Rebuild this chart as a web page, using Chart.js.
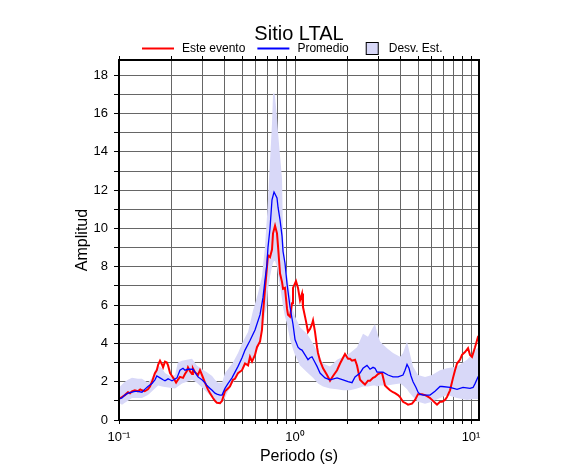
<!doctype html>
<html>
<head>
<meta charset="utf-8">
<title>Sitio LTAL</title>
<script src="https://cdn.jsdelivr.net/npm/chart.js"></script>
<style>
  body { margin: 0; background: white; }
</style>
</head>
<body>
<canvas id="grafica" width="586" height="475"></canvas>
<script>
// Este evento (rojo)
const periodosEvento = [0.100,0.104,0.108,0.1125,0.1155,0.1185,0.123,0.128,0.132,0.135,
  0.140,0.146,0.150,0.154,0.160,0.164,0.167,0.171,0.1755,0.178,
  0.1825,0.187,0.190,0.195,0.200,0.205,0.211,0.216,0.222,0.231,
  0.237,0.243,0.2466,0.253,0.260,0.263,0.270,0.281,0.2885,0.296,
  0.308,0.320,0.329,0.342,0.351,0.360,0.375,0.385,0.400,0.416,
  0.427,0.444,0.456,0.4745,0.500,0.520,0.541,0.555,0.570,0.5925,
  0.608,0.633,0.649,0.658,0.675,0.693,0.702,0.721,0.740,0.750,
  0.770,0.790,0.801,0.822,0.844,0.855,0.877,0.901,0.9125,0.937,
  0.962,0.974,1.013,1.040,1.068,1.096,1.110,1.155,1.185,1.217,
  1.249,1.266,1.299,1.334,1.351,1.387,1.443,1.520,1.581,1.644,
  1.733,1.802,1.849,1.923,2.001,2.053,2.108,2.193,2.251,2.341,
  2.434,2.498,2.598,2.668,2.775,2.848,2.962,3.041,3.122,3.246,
  3.332,3.466,3.604,3.700,3.848,3.950,4.108,4.217,4.385,4.621,
  4.807,5.000,5.132,5.268,5.479,5.623,5.848,6.003,6.243,6.409,
  6.665,6.842,7.116,7.304,7.597,7.902,8.111,8.326,8.660,8.890,
  9.245,9.616,9.870,10.13,10.54,10.96,11.10];
const ampEvento = [1.1,1.2,1.3,1.45,1.4,1.5,1.55,1.5,1.6,1.55,
  1.5,1.6,1.75,2.0,2.45,2.6,2.9,3.1,2.9,2.75,
  3.05,3.0,2.85,2.45,2.3,2.15,1.95,2.1,2.25,2.2,
  2.4,2.55,2.75,2.55,2.4,2.7,2.5,2.35,2.6,2.35,
  1.95,1.6,1.4,1.15,1.0,0.9,0.88,1.0,1.5,1.65,
  1.75,2.1,2.15,2.45,2.6,2.95,2.85,3.3,3.05,3.4,
  3.8,4.1,4.7,5.55,6.8,8.0,8.6,8.5,8.9,9.75,
  10.15,9.75,9.05,7.65,7.2,6.85,6.9,5.8,5.5,5.4,
  6.1,6.9,7.25,6.9,6.25,6.6,5.9,5.15,4.6,4.75,
  5.0,5.2,4.6,3.8,3.5,3.1,2.7,2.35,2.05,2.3,
  2.6,2.95,3.15,3.45,3.2,3.2,3.1,3.15,2.85,2.1,
  1.95,1.85,2.05,2.05,2.2,2.25,2.4,2.45,2.45,1.8,
  1.7,1.55,1.45,1.4,1.3,1.2,0.95,0.9,0.8,0.85,
  1.05,1.35,1.35,1.35,1.3,1.25,1.15,1.05,0.9,0.8,
  0.95,0.95,1.05,1.2,1.55,2.2,2.6,2.95,3.15,3.4,
  3.55,3.75,3.4,3.3,3.8,4.35,4.4];

// Promedio (azul)
const periodosProm = [0.100,0.104,0.108,0.1125,0.1185,0.123,0.128,0.135,0.140,0.146,
  0.154,0.160,0.164,0.171,0.178,0.1825,0.190,0.195,0.200,0.205,
  0.2135,0.222,0.231,0.237,0.2466,0.253,0.263,0.270,0.281,0.296,
  0.308,0.316,0.329,0.338,0.351,0.360,0.375,0.385,0.400,0.416,
  0.4385,0.456,0.4745,0.500,0.520,0.555,0.5925,0.633,0.658,0.675,
  0.693,0.702,0.721,0.740,0.760,0.770,0.790,0.801,0.822,0.844,
  0.855,0.877,0.901,0.937,0.974,1.000,1.040,1.068,1.096,1.140,
  1.185,1.217,1.249,1.266,1.299,1.334,1.387,1.481,1.581,1.733,
  1.874,2.001,2.108,2.193,2.341,2.434,2.564,2.668,2.775,2.848,
  2.924,3.041,3.162,3.376,3.604,3.848,4.108,4.217,4.329,4.443,
  4.56,4.683,4.87,5.000,5.132,5.338,5.848,6.243,6.665,6.842,
  7.597,8.326,9.006,9.870,10.27,10.54,10.96,11.10];
const ampProm = [1.1,1.15,1.3,1.4,1.45,1.5,1.5,1.45,1.6,1.75,
  1.9,2.1,2.3,2.2,2.1,2.05,2.15,2.1,2.05,2.1,
  2.2,2.6,2.7,2.6,2.65,2.65,2.65,2.5,2.25,2.1,
  1.95,1.8,1.65,1.55,1.4,1.35,1.3,1.3,1.65,1.9,
  2.2,2.5,2.8,3.25,3.65,4.15,4.7,5.5,6.4,7.3,
  8.15,9.0,10.0,11.5,11.9,11.8,11.6,11.1,10.45,9.6,
  8.8,8.2,7.1,5.9,5.0,4.2,3.8,3.7,3.65,3.4,
  3.15,3.25,3.3,3.2,3.0,2.8,2.45,2.2,2.1,2.2,
  2.1,2.0,1.95,2.25,2.45,2.7,2.85,2.65,2.75,2.7,
  2.5,2.5,2.5,2.35,2.25,2.25,2.35,2.6,2.9,2.7,
  2.3,2.0,1.7,1.45,1.35,1.3,1.3,1.5,1.75,1.75,
  1.7,1.6,1.7,1.65,1.7,1.9,2.25,2.3];

// Desv. Est. (banda)
const periodosDesv = [0.100,0.104,0.108,0.1125,0.1185,0.128,0.135,0.146,0.154,0.160,
  0.167,0.1755,0.1825,0.195,0.208,0.216,0.228,0.243,0.260,0.277,
  0.296,0.316,0.338,0.351,0.365,0.385,0.400,0.416,0.444,0.4745,
  0.506,0.541,0.577,0.616,0.649,0.675,0.693,0.702,0.721,0.740,
  0.750,0.760,0.770,0.790,0.801,0.822,0.844,0.855,0.877,0.901,
  0.937,0.974,1.000,1.068,1.170,1.266,1.351,1.443,1.581,1.733,
  1.874,2.053,2.251,2.434,2.598,2.775,2.848,2.924,3.041,3.332,
  3.604,3.950,4.108,4.329,4.443,4.683,5.000,5.479,6.003,6.665,
  7.304,8.326,9.490,10.27,11.10];
const desvSup = [1.7,1.85,2.0,2.1,2.2,2.15,2.15,1.95,2.2,2.6,
  2.85,2.7,2.45,2.3,2.35,3.0,3.1,3.15,3.2,2.85,
  2.65,2.5,2.3,2.1,1.95,1.95,2.45,2.65,3.0,3.5,
  4.1,4.6,5.7,6.6,7.5,9.05,10.6,11.5,13.5,15.5,
  17.0,17.1,16.9,15.8,15.0,13.8,12.6,9.6,8.3,7.6,
  6.6,5.75,5.4,4.85,4.5,4.0,3.5,2.95,2.8,3.15,
  3.3,3.5,3.8,4.5,4.35,4.85,5.0,4.6,4.1,3.75,
  3.5,3.3,3.5,4.1,3.65,2.8,2.35,2.25,2.35,2.6,
  2.7,2.8,3.15,3.5,3.85];
const desvInf = [0.9,0.8,0.9,1.0,1.15,1.15,1.15,1.3,1.5,1.65,
  1.8,1.75,1.72,1.68,1.65,1.75,1.9,2.0,2.1,1.95,
  1.7,1.45,1.2,1.05,0.95,0.9,1.15,1.5,1.95,2.45,
  2.75,2.95,3.25,3.75,4.5,5.55,6.0,6.8,7.5,8.0,
  8.2,8.3,8.3,8.0,7.6,7.0,6.3,5.9,5.4,5.0,
  4.2,3.7,3.4,2.85,2.5,2.2,1.9,1.75,1.65,1.6,
  1.55,1.55,1.65,1.75,1.75,1.8,1.8,1.75,1.8,1.8,
  1.85,1.9,1.8,1.6,1.45,1.2,0.95,0.85,0.95,1.15,
  1.3,1.15,1.05,1.1,1.1];

// ejes
const ticksPeriodo = [0.1,0.2,0.3,0.4,0.5,0.6,0.7,0.8,0.9,1,2,3,4,5,6,7,8,9,10];
const etiquetasPeriodo = { 0.1: '10\u207B\u00B9', 1: '10\u2070', 10: '10\u00B9' };

const titulo = 'Sitio LTAL';
const leyenda = ['Este evento', 'Promedio', 'Desv. Est.'];

const rojo = '#ff0000';
const azul = '#0000ff';
const banda = 'rgb(216,216,248)';
const fuente = '"Liberation Sans", Arial, Helvetica, sans-serif';

const pares = (xs, ys) => xs.map((x, i) => ({ x: x, y: ys[i] }));

// titulo, leyenda y marco
const extras = {
  id: 'extras',
  afterDatasetsDraw(chart) {
    const { ctx, chartArea: a } = chart;
    ctx.save();
    ctx.strokeStyle = '#000';
    ctx.lineWidth = 2;
    ctx.strokeRect(a.left, a.top, a.right - a.left, a.bottom - a.top);
    ctx.restore();
  },
  afterDraw(chart) {
    const { ctx, chartArea: a } = chart;
    ctx.save();
    ctx.fillStyle = '#000';
    ctx.font = '20px ' + fuente;
    ctx.textAlign = 'center';
    ctx.textBaseline = 'alphabetic';
    ctx.fillText(titulo, (a.left + a.right) / 2, 40);

    ctx.font = '12px ' + fuente;
    ctx.textAlign = 'left';
    ctx.textBaseline = 'middle';
    const y = 48.5;
    let x = 142;
    // linea roja
    ctx.strokeStyle = rojo; ctx.lineWidth = 2;
    ctx.beginPath(); ctx.moveTo(x, y); ctx.lineTo(x + 32, y); ctx.stroke();
    x += 40;
    ctx.fillText(leyenda[0], x, y);
    x += ctx.measureText(leyenda[0]).width + 12;
    // linea azul
    ctx.strokeStyle = azul; ctx.lineWidth = 2;
    ctx.beginPath(); ctx.moveTo(x, y); ctx.lineTo(x + 32, y); ctx.stroke();
    x += 40;
    ctx.fillText(leyenda[1], x, y);
    x += ctx.measureText(leyenda[1]).width + 17;
    // caja
    ctx.fillStyle = banda;
    ctx.fillRect(x, y - 6.5, 13, 13);
    ctx.strokeStyle = '#000'; ctx.lineWidth = 1;
    ctx.strokeRect(x + 0.5, y - 6, 12, 12);
    x += 23;
    ctx.fillStyle = '#000';
    ctx.fillText(leyenda[2], x, y);
    ctx.restore();
  }
};

new Chart(document.getElementById('grafica'), {
  type: 'line',
  data: {
    datasets: [
      { label: leyenda[1], data: pares(periodosProm, ampProm), borderColor: azul, borderWidth: 1.3, pointRadius: 0, tension: 0, fill: false },
      { label: leyenda[0], data: pares(periodosEvento, ampEvento), borderColor: rojo, borderWidth: 2, pointRadius: 0, tension: 0, fill: false },
      { label: leyenda[2], data: pares(periodosDesv, desvSup), borderWidth: 0, borderColor: banda, backgroundColor: banda, pointRadius: 0, tension: 0, fill: '+1' },
      { label: 'inf', data: pares(periodosDesv, desvInf), borderWidth: 0, borderColor: banda, pointRadius: 0, tension: 0, fill: false }
    ]
  },
  options: {
    responsive: false,
    animation: false,
    layout: { padding: { top: 55, right: 107, left: 0, bottom: 0 } },
    plugins: {
      legend: { display: false },
      title: { display: false },
      tooltip: { enabled: false }
    },
    scales: {
      x: {
        type: 'logarithmic',
        position: 'bottom',
        min: 0.1,
        max: 11.1,
        afterBuildTicks: s => { s.ticks = ticksPeriodo.map(v => ({ value: v })); },
        afterFit: s => { s.height = 55; },
        grid: { color: '#666', lineWidth: 1, tickColor: '#000', tickLength: 4 },
        border: { display: false },
        ticks: {
          autoSkip: false, maxRotation: 0, padding: 6, color: '#000',
          font: { family: fuente, size: 13 },
          callback: v => etiquetasPeriodo[v] || ''
        },
        title: { display: true, text: 'Periodo (s)', color: '#000', font: { family: fuente, size: 16 }, padding: { top: 0, bottom: 9 } }
      },
      xArriba: {
        type: 'logarithmic',
        position: 'top',
        min: 0.1,
        max: 11.1,
        afterBuildTicks: s => { s.ticks = ticksPeriodo.map(v => ({ value: v })); },
        afterFit: s => { s.height = 5; },
        grid: { drawOnChartArea: false, tickColor: '#000', tickLength: 4 },
        border: { display: false },
        ticks: { display: false }
      },
      y: {
        min: 0,
        max: 18.8,
        afterFit: s => { s.width = 119; },
        grid: { color: '#666', lineWidth: 1, tickColor: '#000', tickLength: 5 },
        border: { display: false },
        ticks: {
          stepSize: 1, includeBounds: false, autoSkip: false, padding: 6, color: '#000',
          font: { family: fuente, size: 13 },
          callback: v => (v % 2 === 0 ? v : '')
        },
        title: { display: true, text: 'Amplitud', color: '#000', font: { family: fuente, size: 16 }, padding: { top: 73, bottom: 0 } }
      }
    }
  },
  plugins: [extras]
});
</script>
</body>
</html>
